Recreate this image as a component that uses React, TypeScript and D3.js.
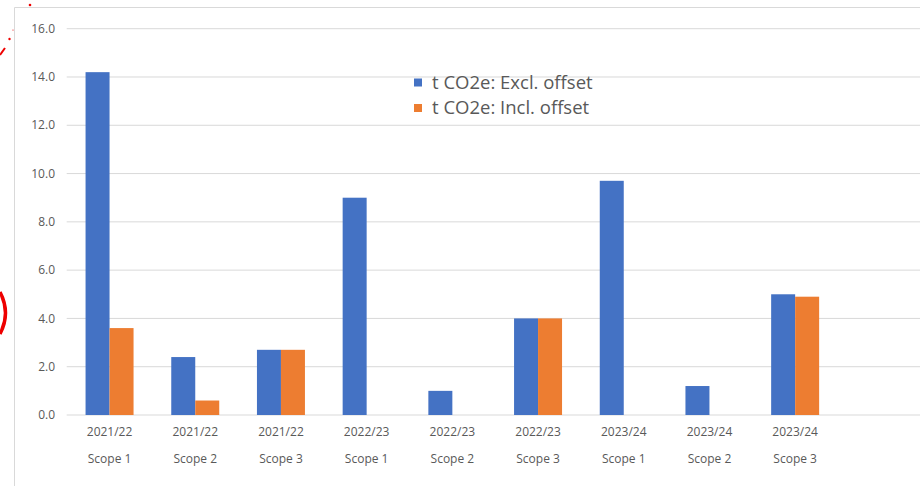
import React from "react";
import * as d3 from "d3";

const years = ["2021/22", "2021/22", "2021/22", "2022/23", "2022/23", "2022/23", "2023/24", "2023/24", "2023/24", ""];
const scopes = ["Scope 1", "Scope 2", "Scope 3", "Scope 1", "Scope 2", "Scope 3", "Scope 1", "Scope 2", "Scope 3", ""];
const exclOffset = [14.2, 2.4, 2.7, 9.0, 1.0, 4.0, 9.7, 1.2, 5.0, null];
const inclOffset = [3.6, 0.6, 2.7, 0, 0, 4.0, 0, 0, 4.9, null];
const yTicks = [0, 2, 4, 6, 8, 10, 12, 14, 16];
const seriesNames = ["t CO2e: Excl. offset", "t CO2e: Incl. offset"];
const seriesColors = ["#4472C4", "#ED7D31"];

const W = 920;
const H = 486;
const FONT = "'Segoe UI', 'Open Sans', 'Noto Sans', sans-serif";

export default function App() {
  const x = d3
    .scaleBand<number>()
    .domain(years.map((_, i) => i))
    .range([66.7, 923.7])
    .paddingInner(0.44)
    .paddingOuter(0.22);
  const inner = d3.scaleBand<number>().domain([0, 1]).range([0, x.bandwidth()]);
  const y = d3.scaleLinear().domain([0, 16]).range([415, 28.7]);
  const series = [exclOffset, inclOffset];

  return (
    <svg
      width={W}
      height={H}
      style={{ position: "absolute", left: 0, top: 0, background: "#fff" }}
      fontFamily={FONT}
    >
      <rect x={0} y={0} width={W} height={H} fill="#fff" />
      {/* chart border */}
      <line x1={14.5} x2={W} y1={7.5} y2={7.5} stroke="#d9d9d9" />
      <line x1={14.5} x2={14.5} y1={7.5} y2={H} stroke="#d9d9d9" />

      {/* gridlines */}
      {yTicks.map((t) => (
        <g key={t}>
          <line x1={66.7} x2={W} y1={y(t)} y2={y(t)} stroke="#d9d9d9" strokeWidth={1} />
          <text x={55} y={y(t)} dy="0.35em" textAnchor="end" fontSize={12} fill="#595959">
            {t.toFixed(1)}
          </text>
        </g>
      ))}

      {/* bars */}
      {series.map((vals, si) =>
        vals.map((v, i) =>
          v == null || v === 0 ? null : (
            <rect
              key={`${si}-${i}`}
              x={(x(i) as number) + (inner(si) as number)}
              y={y(v)}
              width={inner.bandwidth()}
              height={y(0) - y(v)}
              fill={seriesColors[si]}
            />
          )
        )
      )}

      {/* x labels */}
      {years.map((yr, i) => (
        <g key={i} transform={`translate(${(x(i) as number) + x.bandwidth() / 2},0)`}>
          <text y={432} dy="0.35em" textAnchor="middle" fontSize={12} fill="#595959">
            {yr}
          </text>
          <text y={459} dy="0.35em" textAnchor="middle" fontSize={12} fill="#595959">
            {scopes[i]}
          </text>
        </g>
      ))}

      {/* legend */}
      {seriesNames.map((n, i) => (
        <g key={n} transform={`translate(414, ${82.5 + i * 25.5})`}>
          <rect x={0} y={-4} width={8} height={8} fill={seriesColors[i]} />
          <text x={18} y={0} dy="0.35em" fontSize={18.5} fill="#595959">
            {n}
          </text>
        </g>
      ))}

      {/* red annotation marks */}
      <circle cx={30} cy={5} r={1.3} fill="#e00" />
      <circle cx={13} cy={30} r={0.6} fill="#e00" />
      <circle cx={9.5} cy={39} r={1.2} fill="#e00" />
      <line x1={0} y1={55} x2={5} y2={48} stroke="#e00" strokeWidth={2} />
      <path d="M0,292 Q11,313 0,334" fill="none" stroke="#e00" strokeWidth={3.5} />
    </svg>
  );
}
